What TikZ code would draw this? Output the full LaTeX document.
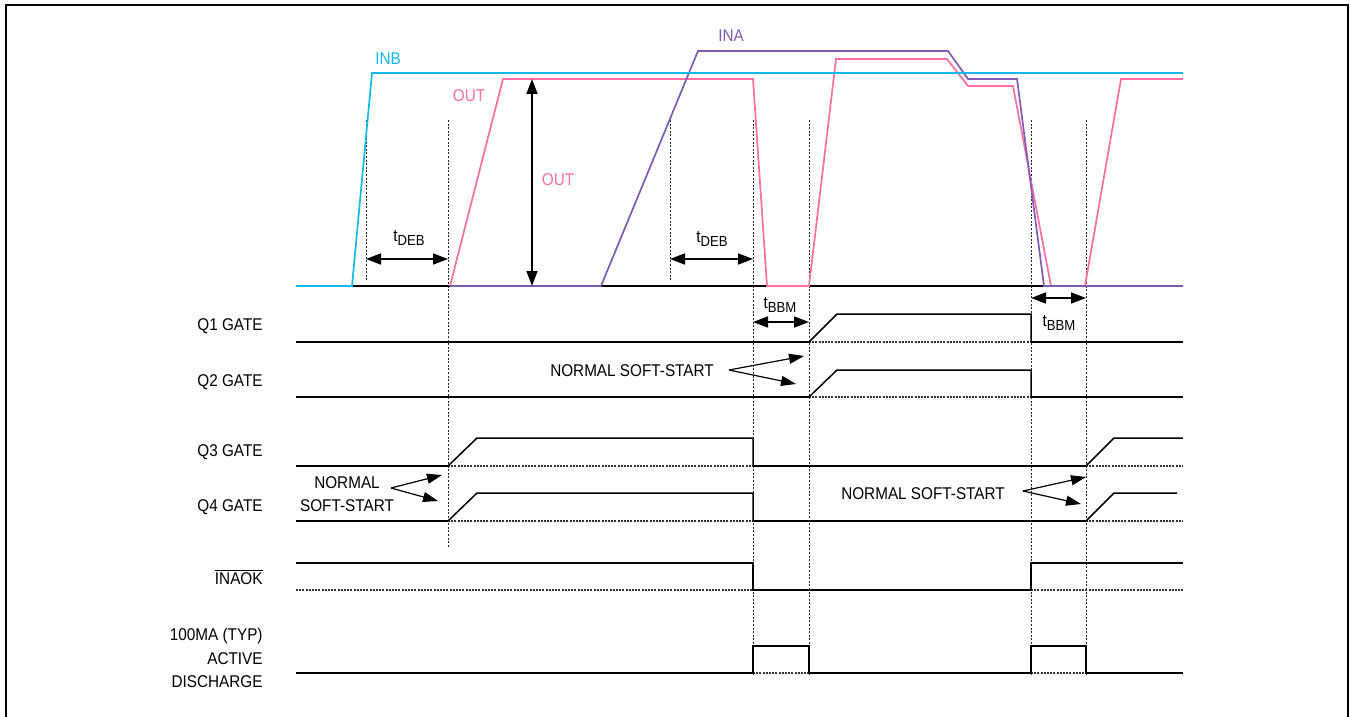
\documentclass[tikz,border=0pt]{standalone}
\usepackage{fontspec}
\setmainfont{Liberation Sans}[FakeStretch=0.9]
\usepackage{tikz}
\usetikzlibrary{arrows.meta}
\definecolor{tdinb}{RGB}{20,185,235}
\definecolor{tdout}{RGB}{255,110,160}
\definecolor{tdina}{RGB}{130,90,180}
\newcommand{\tsub}[1]{t\raisebox{-0.35ex}{\fontsize{7.3}{8}\selectfont #1}}
\tikzset{
  sig/.style={draw=black, line width=0.75pt, line join=miter},
  lowb/.style={draw=black, line width=0.75pt},
  hib/.style={draw=black!80, line width=0.6pt, dash pattern=on 1pt off 0.6pt},
  guide/.style={draw=black!85, line width=0.4pt, dash pattern=on 1pt off 0.8pt},
  wave/.style={line width=0.85pt, line join=miter},
  dim/.style={{Triangle[length=7.5pt,width=5.5pt]}-{Triangle[length=7.5pt,width=5.5pt]}, line width=0.8pt},
  arr/.style={-{Triangle[length=7.5pt,width=5pt]}, line width=0.6pt},
  rowlbl/.style={anchor=east, align=right, inner sep=0pt},
  txt/.style={inner sep=0pt, align=center},
  every node/.style={font=\fontsize{8.5}{11.8}\selectfont}
}

\begin{document}
\begin{tikzpicture}[x=0.5pt, y=-0.5pt]
  \useasboundingbox (0,0) rectangle (1350,717);
  % frame
  \draw[line width=1pt] (6,720) -- (6,5) -- (1348,5) -- (1348,720);

  % time guides
  \foreach \x/\a/\b in {366/120/280, 448/120/548, 670/120/280, 753/120/675,
                        809/120/675, 1031/120/675, 1086/120/675}
    \draw[guide] (\x,\a) -- (\x,\b);

  % input and output waveforms
  \draw[lowb] (296,286) -- (1183,286);
  \draw[wave, tdout] (450,286) -- (503,79) -- (753,79) -- (767,286) -- (809,286)
    -- (836,59) -- (947,59) -- (968,86) -- (1013,86) -- (1051,286) -- (1085,286)
    -- (1121,79) -- (1183,79);
  \draw[wave, tdina] (450,286) -- (601,286) -- (698,51) -- (948,51) -- (968,79)
    -- (1017,79) -- (1044,286) -- (1183,286);
  \draw[wave, tdinb] (296,286) -- (352,286) -- (372,73) -- (1183,73);
  \node[txt, text=tdinb] (inb) at (388,59) {INB};
  \node[txt, text=tdout] (outa) at (469,96) {OUT};
  \node[txt, text=tdout] (outb) at (558,180) {OUT};
  \node[txt, text=tdina] (ina) at (731,36) {INA};

  % timing marks
  \coordinate (vo1) at (532,79);
  \coordinate (vo2) at (532,286);
  \draw[dim] (vo1) -- (vo2);
  \coordinate (d1) at (366,259);
  \coordinate (d2) at (448,259);
  \coordinate (d3) at (670,259);
  \coordinate (d4) at (753,259);
  \coordinate (b1) at (753,322);
  \coordinate (b2) at (809,322);
  \coordinate (b3) at (1031,298);
  \coordinate (b4) at (1086,298);
  \draw[dim] (d1) -- (d2);
  \draw[dim] (d3) -- (d4);
  \draw[dim] (b1) -- (b2);
  \draw[dim] (b3) -- (b4);
  \node[txt] (deb1) at (409,238) {\tsub{DEB}};
  \node[txt] (deb2) at (712,239) {\tsub{DEB}};
  \node[txt] (bbm1) at (780,305) {\tsub{BBM}};
  \node[txt] (bbm2) at (1059,323) {\tsub{BBM}};

  % row labels
  \node[rowlbl] (q1) at (263,326) {Q1 GATE};
  \node[rowlbl] (q2) at (263,382) {Q2 GATE};
  \node[rowlbl] (q3) at (263,452) {Q3 GATE};
  \node[rowlbl] (q4) at (263,507) {Q4 GATE};
  \node[rowlbl] (ok) at (263,577) {$\overline{\mbox{INAOK}}$};
  \node[rowlbl] (dis) at (263,658) {100MA (TYP)\\ACTIVE\\DISCHARGE};

  % Q1 / Q2 gates
  \foreach \y/\h in {342/314, 397/370} {
    \draw[lowb] (296,\y) -- (809,\y);
    \draw[lowb] (1031,\y) -- (1183,\y);
    \draw[hib] (809,\y) -- (1031,\y);
    \draw[sig] (809,\y) -- (837,\h) -- (1031,\h) -- (1031,\y);
  }
  % Q3 / Q4 gates
  \foreach \y/\h/\e in {466/438/1183, 521/493/1177} {
    \draw[lowb] (296,\y) -- (448,\y);
    \draw[lowb] (753,\y) -- (1086,\y);
    \draw[hib] (448,\y) -- (753,\y);
    \draw[hib] (1086,\y) -- (1183,\y);
    \draw[sig] (448,\y) -- (477,\h) -- (753,\h) -- (753,\y);
    \draw[sig] (1086,\y) -- (1114,\h) -- (\e,\h);
  }
  % INAOK
  \draw[hib] (296,590) -- (753,590);
  \draw[hib] (1031,590) -- (1183,590);
  \draw[sig] (296,563) -- (753,563) -- (753,590) -- (1031,590) -- (1031,563) -- (1183,563);
  % active discharge
  \draw[hib] (753,673) -- (809,673);
  \draw[hib] (1031,673) -- (1086,673);
  \draw[sig] (296,673) -- (753,673) -- (753,646) -- (809,646) -- (809,673) -- (1031,673)
    -- (1031,646) -- (1086,646) -- (1086,673) -- (1183,673);

  % soft-start notes
  \node[txt] (ss1) at (632,371) {NORMAL SOFT-START};
  \node[txt] (ss2) at (347,494) {NORMAL\\SOFT-START};
  \node[txt] (ss3) at (923,494) {NORMAL SOFT-START};
  \coordinate (ss1a) at (729,370);
  \coordinate (ss2a) at (391,488);
  \coordinate (ss3a) at (1023,491);
  \draw[arr] (ss1a) -- (804,356);
  \draw[arr] (ss1a) -- (796,384);
  \draw[arr] (ss2a) -- (442,475);
  \draw[arr] (ss2a) -- (438,501);
  \draw[arr] (ss3a) -- (1086,477);
  \draw[arr] (ss3a) -- (1081,504);
\end{tikzpicture}
\end{document}
